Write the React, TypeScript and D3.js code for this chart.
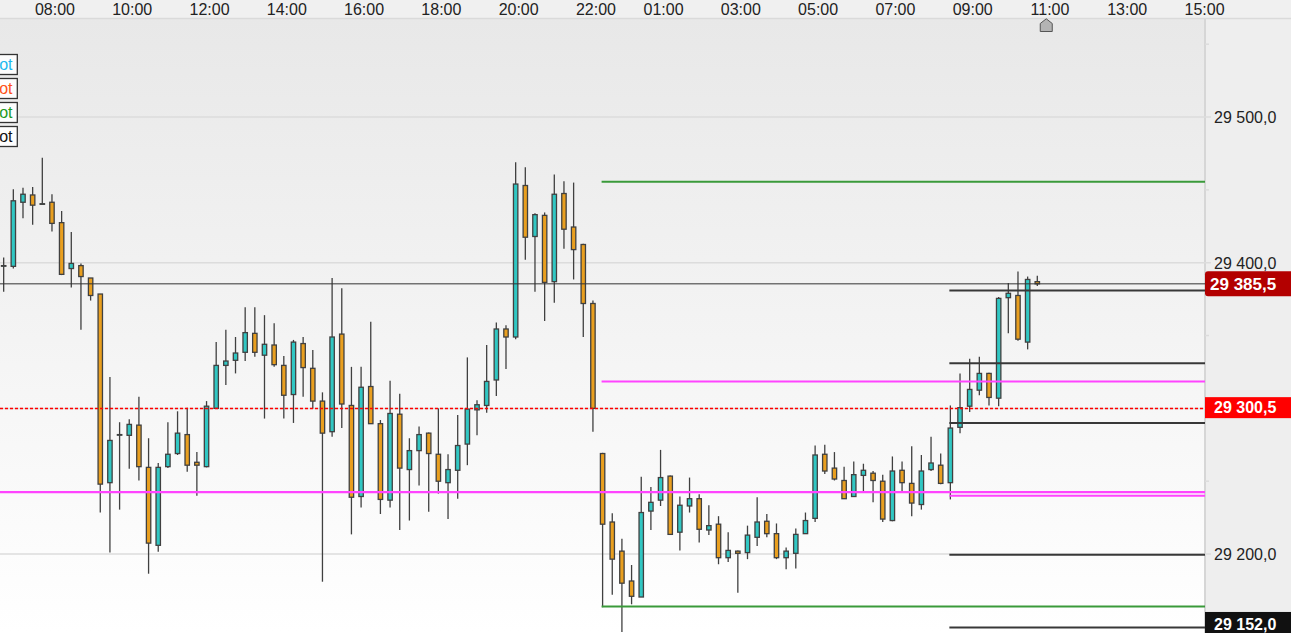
import React from "react";
import * as d3 from "d3";

// 15-minute candles (index 0 = first visible bar)
const opens = [
  29398, 29397.5, 29441.5, 29446.5, 29440.5, 29441.5, 29427.5, 29396, 29398, 29389.5,
  29378.5, 29249, 29282, 29281.5, 29288.5, 29259.5, 29206, 29260, 29269, 29282,
  29263, 29260, 29300, 29329.5, 29333, 29338.5, 29351.5, 29336.5, 29343.5, 29329.5,
  29309.5, 29344.5, 29327.5, 29305, 29284, 29351, 29302, 29239.5, 29315, 29289.5,
  29237, 29296, 29258, 29271, 29283, 29268.5, 29249, 29257.5, 29275.5, 29299,
  29302, 29319.5, 29354.5, 29349, 29453, 29418, 29432.5, 29387, 29447.5, 29424.5,
  29412.5, 29372, 29269, 29222, 29202, 29181.5, 29170.5, 29229.5, 29237, 29253.5,
  29215, 29233, 29238, 29216.5, 29220.5, 29197.5, 29202, 29201, 29211.5, 29222.5,
  29214, 29197.5, 29200.5, 29214, 29224.5, 29268.5, 29259, 29250.5, 29239.5, 29254,
  29255.5, 29250, 29223, 29257.5, 29248.5, 29234, 29258, 29261, 29249, 29287,
  29301.5, 29312.5, 29324, 29307, 29376, 29377.5, 29345.5, 29387,
];
const highs = [
  29403.5, 29450.5, 29451.5, 29452, 29472, 29447, 29435.5, 29421, 29399.5, 29389.5,
  29378.5, 29321.5, 29290.5, 29292.5, 29308, 29279.5, 29262.5, 29290.5, 29298, 29300.5,
  29270, 29305, 29345.5, 29354, 29349, 29369.5, 29369.5, 29364, 29358.5, 29336,
  29347, 29349, 29340, 29311, 29389.5, 29382.5, 29328.5, 29328.5, 29359.5, 29292,
  29319, 29310, 29279.5, 29287.5, 29283.5, 29300, 29268.5, 29295.5, 29335, 29305.5,
  29343.5, 29359, 29357, 29469, 29465.5, 29434, 29434.5, 29460.5, 29456, 29455,
  29413, 29374, 29269.5, 29228, 29210.5, 29192.5, 29253, 29246, 29271.5, 29254,
  29239.5, 29252.5, 29241, 29233.5, 29226, 29215, 29202.5, 29219.5, 29239, 29227.5,
  29221, 29204.5, 29217.5, 29228.5, 29274.5, 29275, 29270, 29260, 29263.5, 29262,
  29257, 29254.5, 29267, 29263.5, 29274, 29268, 29280.5, 29269, 29302, 29324,
  29334, 29335.5, 29324.5, 29376.5, 29386, 29394, 29390.5, 29391,
];
const lows = [
  29380, 29396, 29430.5, 29426, 29440, 29421.5, 29391.5, 29383, 29354, 29374,
  29228.5, 29201, 29230.5, 29258.5, 29250.5, 29186.5, 29201.5, 29259, 29268, 29256.5,
  29240, 29259.5, 29300, 29316, 29324, 29332.5, 29335.5, 29293, 29328.5, 29293,
  29290, 29308, 29300, 29181, 29280.5, 29286.5, 29213.5, 29232, 29289.5, 29227.5,
  29232, 29216.5, 29223, 29247, 29229, 29241.5, 29224, 29238, 29261, 29281.5,
  29297, 29308.5, 29327, 29347.5, 29402, 29380, 29360, 29372.5, 29409.5, 29388.5,
  29349, 29284, 29163.5, 29172, 29146.5, 29165.5, 29170.5, 29216.5, 29233, 29213,
  29202.5, 29228.5, 29208, 29213, 29193, 29194.5, 29173.5, 29196.5, 29205.5, 29211.5,
  29196.5, 29189.5, 29190, 29214, 29222, 29255, 29250.5, 29238, 29239.5, 29242.5,
  29235.5, 29222, 29222.5, 29242.5, 29226, 29230.5, 29257, 29248, 29237.5, 29283,
  29297.5, 29309, 29302, 29301.5, 29351.5, 29346.5, 29340.5, 29384,
];
const closes = [
  29398, 29442.5, 29447, 29439.5, 29440.5, 29427, 29392, 29399.5, 29390.5, 29377.5,
  29248, 29278, 29282, 29289, 29260, 29207.5, 29259.5, 29268.5, 29283, 29261,
  29261, 29301.5, 29329.5, 29332.5, 29338, 29352, 29338.5, 29344, 29330, 29309,
  29345.5, 29328, 29305, 29283, 29349, 29303, 29239, 29314.5, 29289.5, 29237.5,
  29296.5, 29259, 29271, 29282, 29269, 29250, 29258, 29274.5, 29299.5, 29302.5,
  29318.5, 29354.5, 29349, 29454, 29417.5, 29433, 29386.5, 29447, 29423, 29409,
  29372, 29300, 29220.5, 29196.5, 29180, 29171, 29228.5, 29235.5, 29252.5, 29213.5,
  29233.5, 29238, 29217, 29219.5, 29197.5, 29202.5, 29200.5, 29213, 29222, 29214,
  29197.5, 29202, 29213.5, 29223, 29268, 29257, 29251.5, 29238, 29254.5, 29257.5,
  29250.5, 29224, 29257, 29249, 29235, 29257, 29262.5, 29248.5, 29286.5, 29300.5,
  29313, 29324, 29307.5, 29375.5, 29379, 29347.5, 29388.5, 29385.5,
];

// time axis labels and the bar index they sit on
const timeLabels = ["08:00", "10:00", "12:00", "14:00", "16:00", "18:00", "20:00", "22:00",
  "01:00", "03:00", "05:00", "07:00", "09:00", "11:00", "13:00", "15:00"];
const timeIndex = [5, 13, 21, 29, 37, 45, 53, 61, 68, 76, 84, 92, 100, 108, 116, 124];

const priceTicks = [29200, 29300, 29400, 29500];
const minorTicks = [29150, 29250, 29350, 29450, 29550];

// lines across the whole chart
const lastPrice = 29385.5;
const refPrice = 29300.5;
const magentaFull = 29242.5;
// pivot segments starting at bar 62
const sessionGreen = [29455.5, 29164];
const sessionMagenta = [29318.5];
// pivot segments starting at bar 98
const dayBlack = [29381, 29331, 29290, 29199.5, 29149.5];
const dayMagenta = [29240];
const lowTag = 29152;

const legendNames = ["Daily Pivot", "Weekly Pivot", "Monthly Pivot", "Pivot"];
const legendColors = ["#1cb8ef", "#ff5317", "#1c9a1c", "#111111"];

const W = 1291;
const H = 633;
const plotRight = 1205;
const plotTop = 19;
const FONT = "'Liberation Sans', Arial, sans-serif";

const fmt = d3.formatLocale({ decimal: ",", thousands: " ", grouping: [3], currency: ["", ""] }).format(",.1f");

export default function App() {
  const x = d3.scaleLinear().domain([-0.38, 124.36]).range([0, plotRight]);
  const y = d3.scaleLinear().domain([29145.8, 29567.3]).range([H, plotTop]);

  const candles = opens.map((o, i) => ({ i, o, h: highs[i], l: lows[i], c: closes[i] }));
  const bodyW = 4.4;

  const segs = [
    ...sessionGreen.map(p => ({ from: 62, p, color: "#3a9a3a", w: 2 })),
    ...sessionMagenta.map(p => ({ from: 62, p, color: "#ff44ff", w: 2 })),
    ...dayBlack.map(p => ({ from: 98, p, color: "#383838", w: 2 })),
    ...dayMagenta.map(p => ({ from: 98, p, color: "#ff44ff", w: 2 })),
  ];

  const tags = [
    { p: lastPrice, fill: "#b30000", h: 25, fs: 17, r: 3 },
    { p: refPrice, fill: "#ff0000", h: 21, fs: 16, r: 0 },
    { p: lowTag, fill: "#111111", h: 24, fs: 16, r: 0 },
  ];

  const hx = x(108) - 0.7;
  const refY = Math.round(y(refPrice)) + 0.5;

  return (
    <svg width={W} height={H} style={{ position: "absolute", left: 0, top: 0, fontFamily: FONT }}>
      <defs>
        <linearGradient id="bg" x1="0" y1="0" x2="0" y2="1">
          <stop offset="0" stopColor="#e8e8e8" />
          <stop offset="1" stopColor="#ffffff" />
        </linearGradient>
      </defs>
      <rect x={0} y={0} width={W} height={plotTop} fill="#f0f0f0" />
      <rect x={0} y={plotTop} width={plotRight} height={H - plotTop} fill="url(#bg)" />
      <rect x={plotRight} y={plotTop} width={W - plotRight} height={H - plotTop} fill="#eeeeee" />
      <line x1={0} x2={W} y1={18.5} y2={18.5} stroke="#dadada" strokeWidth={1.5} />
      <line x1={plotRight} x2={plotRight} y1={plotTop} y2={H} stroke="#d6d6d6" strokeWidth={2} />

      {priceTicks.map(p => (
        <line key={p} x1={0} x2={plotRight + 6} y1={y(p)} y2={y(p)} stroke="#dcdcdc" strokeWidth={1.5} />
      ))}
      {minorTicks.map(p => (
        <line key={p} x1={plotRight} x2={plotRight + 4} y1={y(p)} y2={y(p)} stroke="#dcdcdc" strokeWidth={1.5} />
      ))}
      {priceTicks.map(p => (
        <text key={p} x={1214} y={y(p) + 6} fontSize={16} fill="#222">{fmt(p)}</text>
      ))}

      {candles.map(d => {
        const up = d.c >= d.o;
        const top = y(Math.max(d.o, d.c));
        const bot = y(Math.min(d.o, d.c));
        const cx = x(d.i);
        return (
          <g key={d.i}>
            <line x1={cx} x2={cx} y1={y(d.h)} y2={y(d.l)} stroke="#404040" strokeWidth={1.3} />
            <rect x={cx - bodyW / 2} y={top} width={bodyW} height={Math.max(bot - top, 0.6)}
              fill={up ? "#31c7c3" : "#e99f1f"} stroke="#404040" strokeWidth={1.3} />
          </g>
        );
      })}

      <line x1={0} x2={plotRight} y1={y(lastPrice)} y2={y(lastPrice)} stroke="#333" strokeWidth={1} />
      <line x1={0} x2={plotRight} y1={refY} y2={refY} stroke="#ff0000" strokeWidth={1.3} strokeDasharray="3 2" />
      <line x1={0} x2={plotRight} y1={y(magentaFull)} y2={y(magentaFull)} stroke="#ff44ff" strokeWidth={2.2} />
      {segs.map((s, k) => (
        <line key={k} x1={x(s.from) - 1} x2={plotRight} y1={y(s.p)} y2={y(s.p)} stroke={s.color} strokeWidth={s.w} />
      ))}

      {tags.map(t => (
        <g key={t.p}>
          <rect x={plotRight} y={y(t.p) - t.h / 2} width={W - plotRight + 4} height={t.h} rx={t.r} fill={t.fill} />
          <text x={1210 + (17 - t.fs) * 4} y={y(t.p) + t.fs * 0.36} fontSize={t.fs} fontWeight="bold" fill="#fff">
            {fmt(t.p)}
          </text>
        </g>
      ))}

      {legendNames.map((n, k) => (
        <g key={n}>
          <rect x={-60} y={54.5 + k * 24} width={77.3} height={20} fill="#fdfdfd" stroke="#333" strokeWidth={1.3} />
          <text x={12.5} y={70.3 + k * 24} fontSize={16} textAnchor="end" fill={legendColors[k]}>{n}</text>
        </g>
      ))}

      {timeLabels.map((t, k) => (
        <text key={t} x={x(timeIndex[k]) + 3} y={15} fontSize={16} textAnchor="middle" fill="#222">{t}</text>
      ))}

      <path d={`M${hx - 6},31.5 L${hx - 6},23.5 L${hx},18.8 L${hx + 6},23.5 L${hx + 6},31.5 Z`}
        fill="#b4b4b4" stroke="#555" strokeWidth={1} />
    </svg>
  );
}
